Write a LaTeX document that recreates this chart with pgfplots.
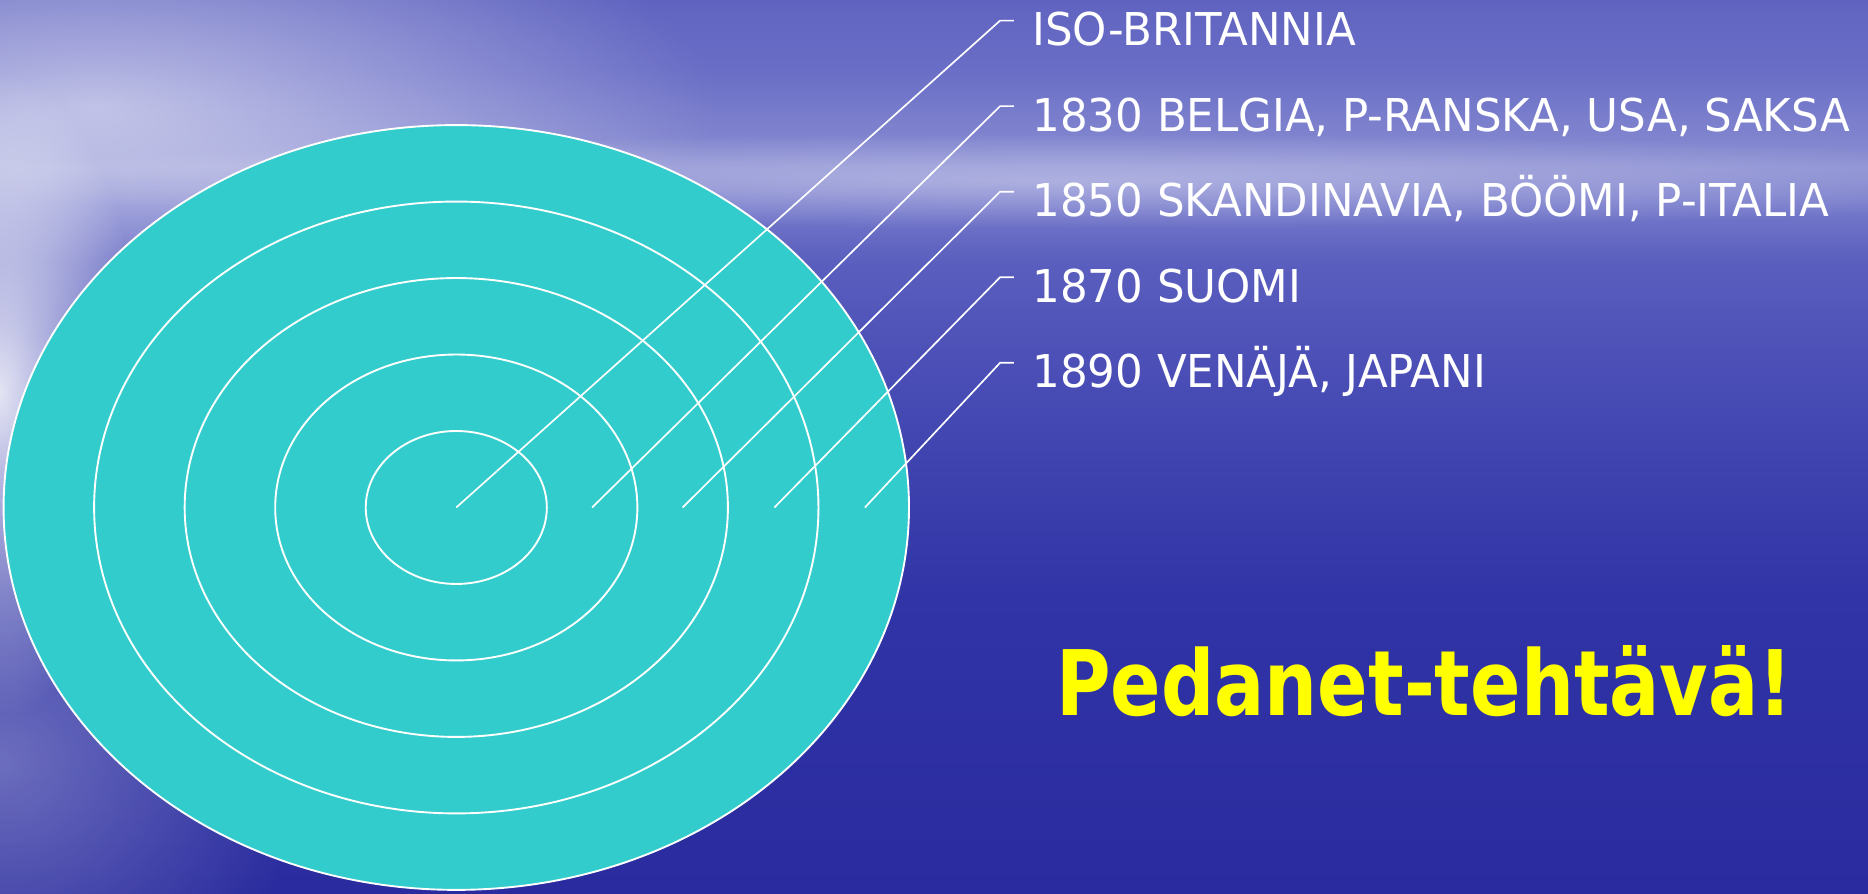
\documentclass[border=0pt]{standalone}
\usepackage{pgfplots}
\pgfplotsset{compat=1.18}
\usetikzlibrary{fadings}
\usepackage{fontspec}
\setmainfont{DejaVu Sans Condensed}
\newfontfamily\labfont[FakeStretch=1.07]{DejaVu Sans Condensed}
\newfontfamily\titlefont[FakeStretch=0.915]{DejaVu Sans Condensed Bold}
\definecolor{ringfill}{HTML}{33CCCC}
\definecolor{titleyellow}{HTML}{FFFF00}
\definecolor{b0}{HTML}{2A2B9E}
\definecolor{b1}{HTML}{3034A6}
\definecolor{b2}{HTML}{474BB4}
\definecolor{b3}{HTML}{5A5EBE}
\definecolor{b4}{HTML}{7478CA}
\definecolor{b5}{HTML}{8A8ED2}
\definecolor{b6}{HTML}{6A6EC6}
\definecolor{b7}{HTML}{6064C0}
\pgfdeclareverticalshading{bg}{100bp}{color(0bp)=(b0); color(25bp)=(b0); color(41.67bp)=(b1); color(53bp)=(b2); color(60.33bp)=(b3); color(63.33bp)=(b4); color(65.67bp)=(b5); color(71bp)=(b6); color(75bp)=(b7); color(100bp)=(b7)}
\tikzfading[name=glow, inner color=transparent!0, outer color=transparent!100]
\pgfplotstableread{
x y
383 324
839.5 732.7
851 732.7
}\leadA
\pgfplotstableread{
x y
497 324
839.5 660.9
851 660.9
}\leadB
\pgfplotstableread{
x y
573 324
839.5 589.1
851 589.1
}\leadC
\pgfplotstableread{
x y
650 324
839.5 517.3
851 517.3
}\leadD
\pgfplotstableread{
x y
726 324
839.5 445.5
851 445.5
}\leadE
\begin{document}
\begin{tikzpicture}
\begin{axis}[
  width=15.68cm, height=7.5cm, scale only axis,
  xmin=0, xmax=1568, ymin=0, ymax=750,
  hide axis, clip=true,
]
% background
\fill[shading=bg] (axis cs:0,0) rectangle (axis cs:1568,750);
\fill[white, opacity=0.35, path fading=glow] (axis cs:900,598) ellipse [x radius=950, y radius=40];
\fill[white, opacity=0.55, path fading=glow] (axis cs:80,660) ellipse [x radius=520, y radius=190];
\fill[white, opacity=0.30, path fading=glow] (axis cs:0,110) ellipse [x radius=260, y radius=230];
\fill[white, opacity=0.85, path fading=glow] (axis cs:0,420) ellipse [x radius=120, y radius=270];
% rings
\fill[ringfill, draw=white, line width=0.45pt] (axis cs:383,324) ellipse [x radius=380, y radius=321];
\draw[white, line width=0.45pt] (axis cs:383,324) ellipse [x radius=304, y radius=256.8];
\draw[white, line width=0.45pt] (axis cs:383,324) ellipse [x radius=228, y radius=192.6];
\draw[white, line width=0.45pt] (axis cs:383,324) ellipse [x radius=152, y radius=128.4];
\draw[white, line width=0.45pt] (axis cs:383,324) ellipse [x radius=76, y radius=64.2];
% leader lines
\addplot[white, line width=0.4pt, no marks] table {\leadA};
\addplot[white, line width=0.4pt, no marks] table {\leadB};
\addplot[white, line width=0.4pt, no marks] table {\leadC};
\addplot[white, line width=0.4pt, no marks] table {\leadD};
\addplot[white, line width=0.4pt, no marks] table {\leadE};
% labels
\begin{scope}[every node/.style={anchor=base west, inner sep=0pt, text=white, font=\labfont\fontsize{10.8}{13}\selectfont}]
\node at (axis cs:866,711.7) {ISO-BRITANNIA};
\node at (axis cs:866,639.9) {1830 BELGIA, P-RANSKA, USA, SAKSA};
\node at (axis cs:866,568.1) {1850 SKANDINAVIA, BÖÖMI, P-ITALIA};
\node at (axis cs:866,496.3) {1870 SUOMI};
\node at (axis cs:866,424.5) {1890 VENÄJÄ, JAPANI};
\end{scope}
\node[anchor=base west, inner sep=0pt, text=titleyellow, font=\titlefont\fontsize{21.6}{26}\selectfont] at (axis cs:886,149) {Pedanet-tehtävä!};
\end{axis}
\end{tikzpicture}
\end{document}
